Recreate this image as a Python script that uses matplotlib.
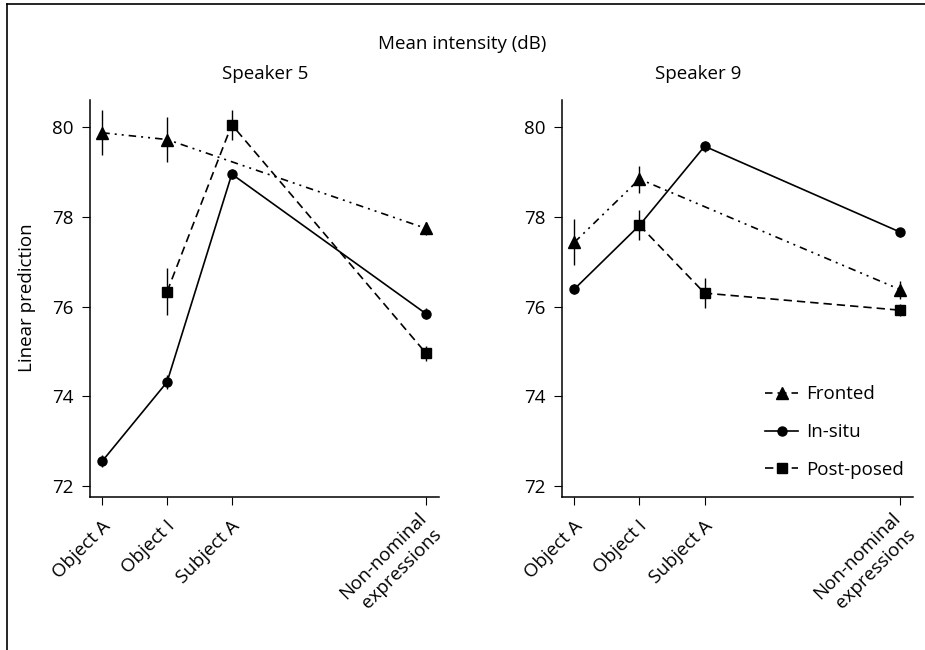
import matplotlib
matplotlib.use("Agg")
import matplotlib.pyplot as plt
from matplotlib.lines import Line2D
import matplotlib.transforms as mtransforms
import numpy as np

plt.rcParams['font.family'] = ['Open Sans', 'DejaVu Sans']

categories = ["Object A", "Object I", "Subject A", "Non-nominal\nexpressions"]
cat_pos = [0, 1, 2, 5]

# Speaker 5
s5_fronted = [79.87, 79.72, None, 77.74]
s5_fronted_err = [0.50, 0.50, None, 0.15]
s5_insitu = [72.56, 74.32, 78.95, 75.84]
s5_insitu_err = [0.14, 0.15, 0.12, 0.12]
s5_post = [None, 76.33, 80.05, 74.96]
s5_post_err = [None, 0.52, 0.33, 0.17]

# Speaker 9
s9_fronted = [77.43, 78.84, None, 76.38]
s9_fronted_err = [0.51, 0.30, None, 0.20]
s9_insitu = [76.39, 77.81, 79.57, 77.66]
s9_insitu_err = [0.12, 0.12, 0.12, 0.10]
s9_post = [None, 77.81, 76.30, 75.92]
s9_post_err = [None, 0.33, 0.33, 0.13]

yticks = [72, 74, 76, 78, 80]
series_labels = ["Fronted", "In-situ", "Post-posed"]

W, H = 925, 650
fig = plt.figure(figsize=(W / 100, H / 100), dpi=100)

def px_axes(x0, y0, x1, y1):
    return fig.add_axes([x0 / W, 1 - y1 / H, (x1 - x0) / W, (y1 - y0) / H])

ax1 = px_axes(90, 100, 439, 497)
ax2 = px_axes(562, 100, 913, 497)

fs = 13.5
front_dash = (0, (4.5, 3, 1.2, 3, 1.2, 3))
post_dash = (0, (5, 3))
styles = [
    dict(marker='^', ms=8, ls=front_dash),
    dict(marker='o', ms=6.5, ls='-'),
    dict(marker='s', ms=7.5, ls=post_dash),
]

def draw(ax, data):
    handles = []
    for (vals, errs), st, lab in zip(data, styles, series_labels):
        xs = [p for p, v in zip(cat_pos, vals) if v is not None]
        ys = [v for v in vals if v is not None]
        es = [e for e in errs if e is not None]
        ax.errorbar(xs, ys, yerr=es, fmt='none', ecolor='black', elinewidth=1.0, capsize=0, zorder=2)
        h, = ax.plot(xs, ys, color='black', lw=1.2, linestyle=st['ls'], marker=st['marker'],
                     ms=st['ms'], mfc='black', mec='black', label=lab, zorder=3)
        handles.append(h)
    ax.set_xlim(-0.19, 5.2)
    ax.set_ylim(71.76, 80.6)
    ax.set_yticks(yticks)
    ax.set_yticklabels([str(t) for t in yticks], fontsize=fs)
    ax.set_xticks(cat_pos)
    ax.set_xticklabels(categories, fontsize=fs, rotation=45, ha='right', va='center',
                       rotation_mode='anchor', multialignment='right', linespacing=1.3)
    for s in ['top', 'right']:
        ax.spines[s].set_visible(False)
    for s in ['left', 'bottom']:
        ax.spines[s].set_linewidth(1.1)
    ax.tick_params(axis='y', length=5.5, width=0.8, pad=6.5)
    ax.tick_params(axis='x', length=6, width=0.8, pad=13)
    offset = mtransforms.ScaledTranslation(5 / 100, 0, fig.dpi_scale_trans)
    for lbl in ax.get_xticklabels():
        lbl.set_transform(lbl.get_transform() + offset)
    return handles

draw(ax1, [(s5_fronted, s5_fronted_err), (s5_insitu, s5_insitu_err), (s5_post, s5_post_err)])
handles = draw(ax2, [(s9_fronted, s9_fronted_err), (s9_insitu, s9_insitu_err), (s9_post, s9_post_err)])

fig.legend(handles=handles, labels=series_labels, loc='upper left',
           bbox_to_anchor=(756 / W, 1 - 376 / H), frameon=False, fontsize=fs,
           handlelength=1.75, handletextpad=0.45, labelspacing=1.05, borderpad=0)

fig.text(462 / W, 1 - 44 / H, "Mean intensity (dB)", ha='center', va='center', fontsize=fs)
fig.text(265 / W, 1 - 74 / H, "Speaker 5", ha='center', va='center', fontsize=fs)
fig.text(698 / W, 1 - 74 / H, "Speaker 9", ha='center', va='center', fontsize=fs)
fig.text(27 / W, 1 - 298 / H, "Linear prediction", ha='center', va='center', rotation=90, fontsize=fs)

# figure border (top and left visible)
fig.add_artist(Line2D([7 / W, 7 / W], [0, 1 - 4 / H], transform=fig.transFigure, color='black', lw=1.2))
fig.add_artist(Line2D([7 / W, 1], [1 - 4 / H, 1 - 4 / H], transform=fig.transFigure, color='black', lw=1.2))

fig.savefig("out.png", dpi=100)
